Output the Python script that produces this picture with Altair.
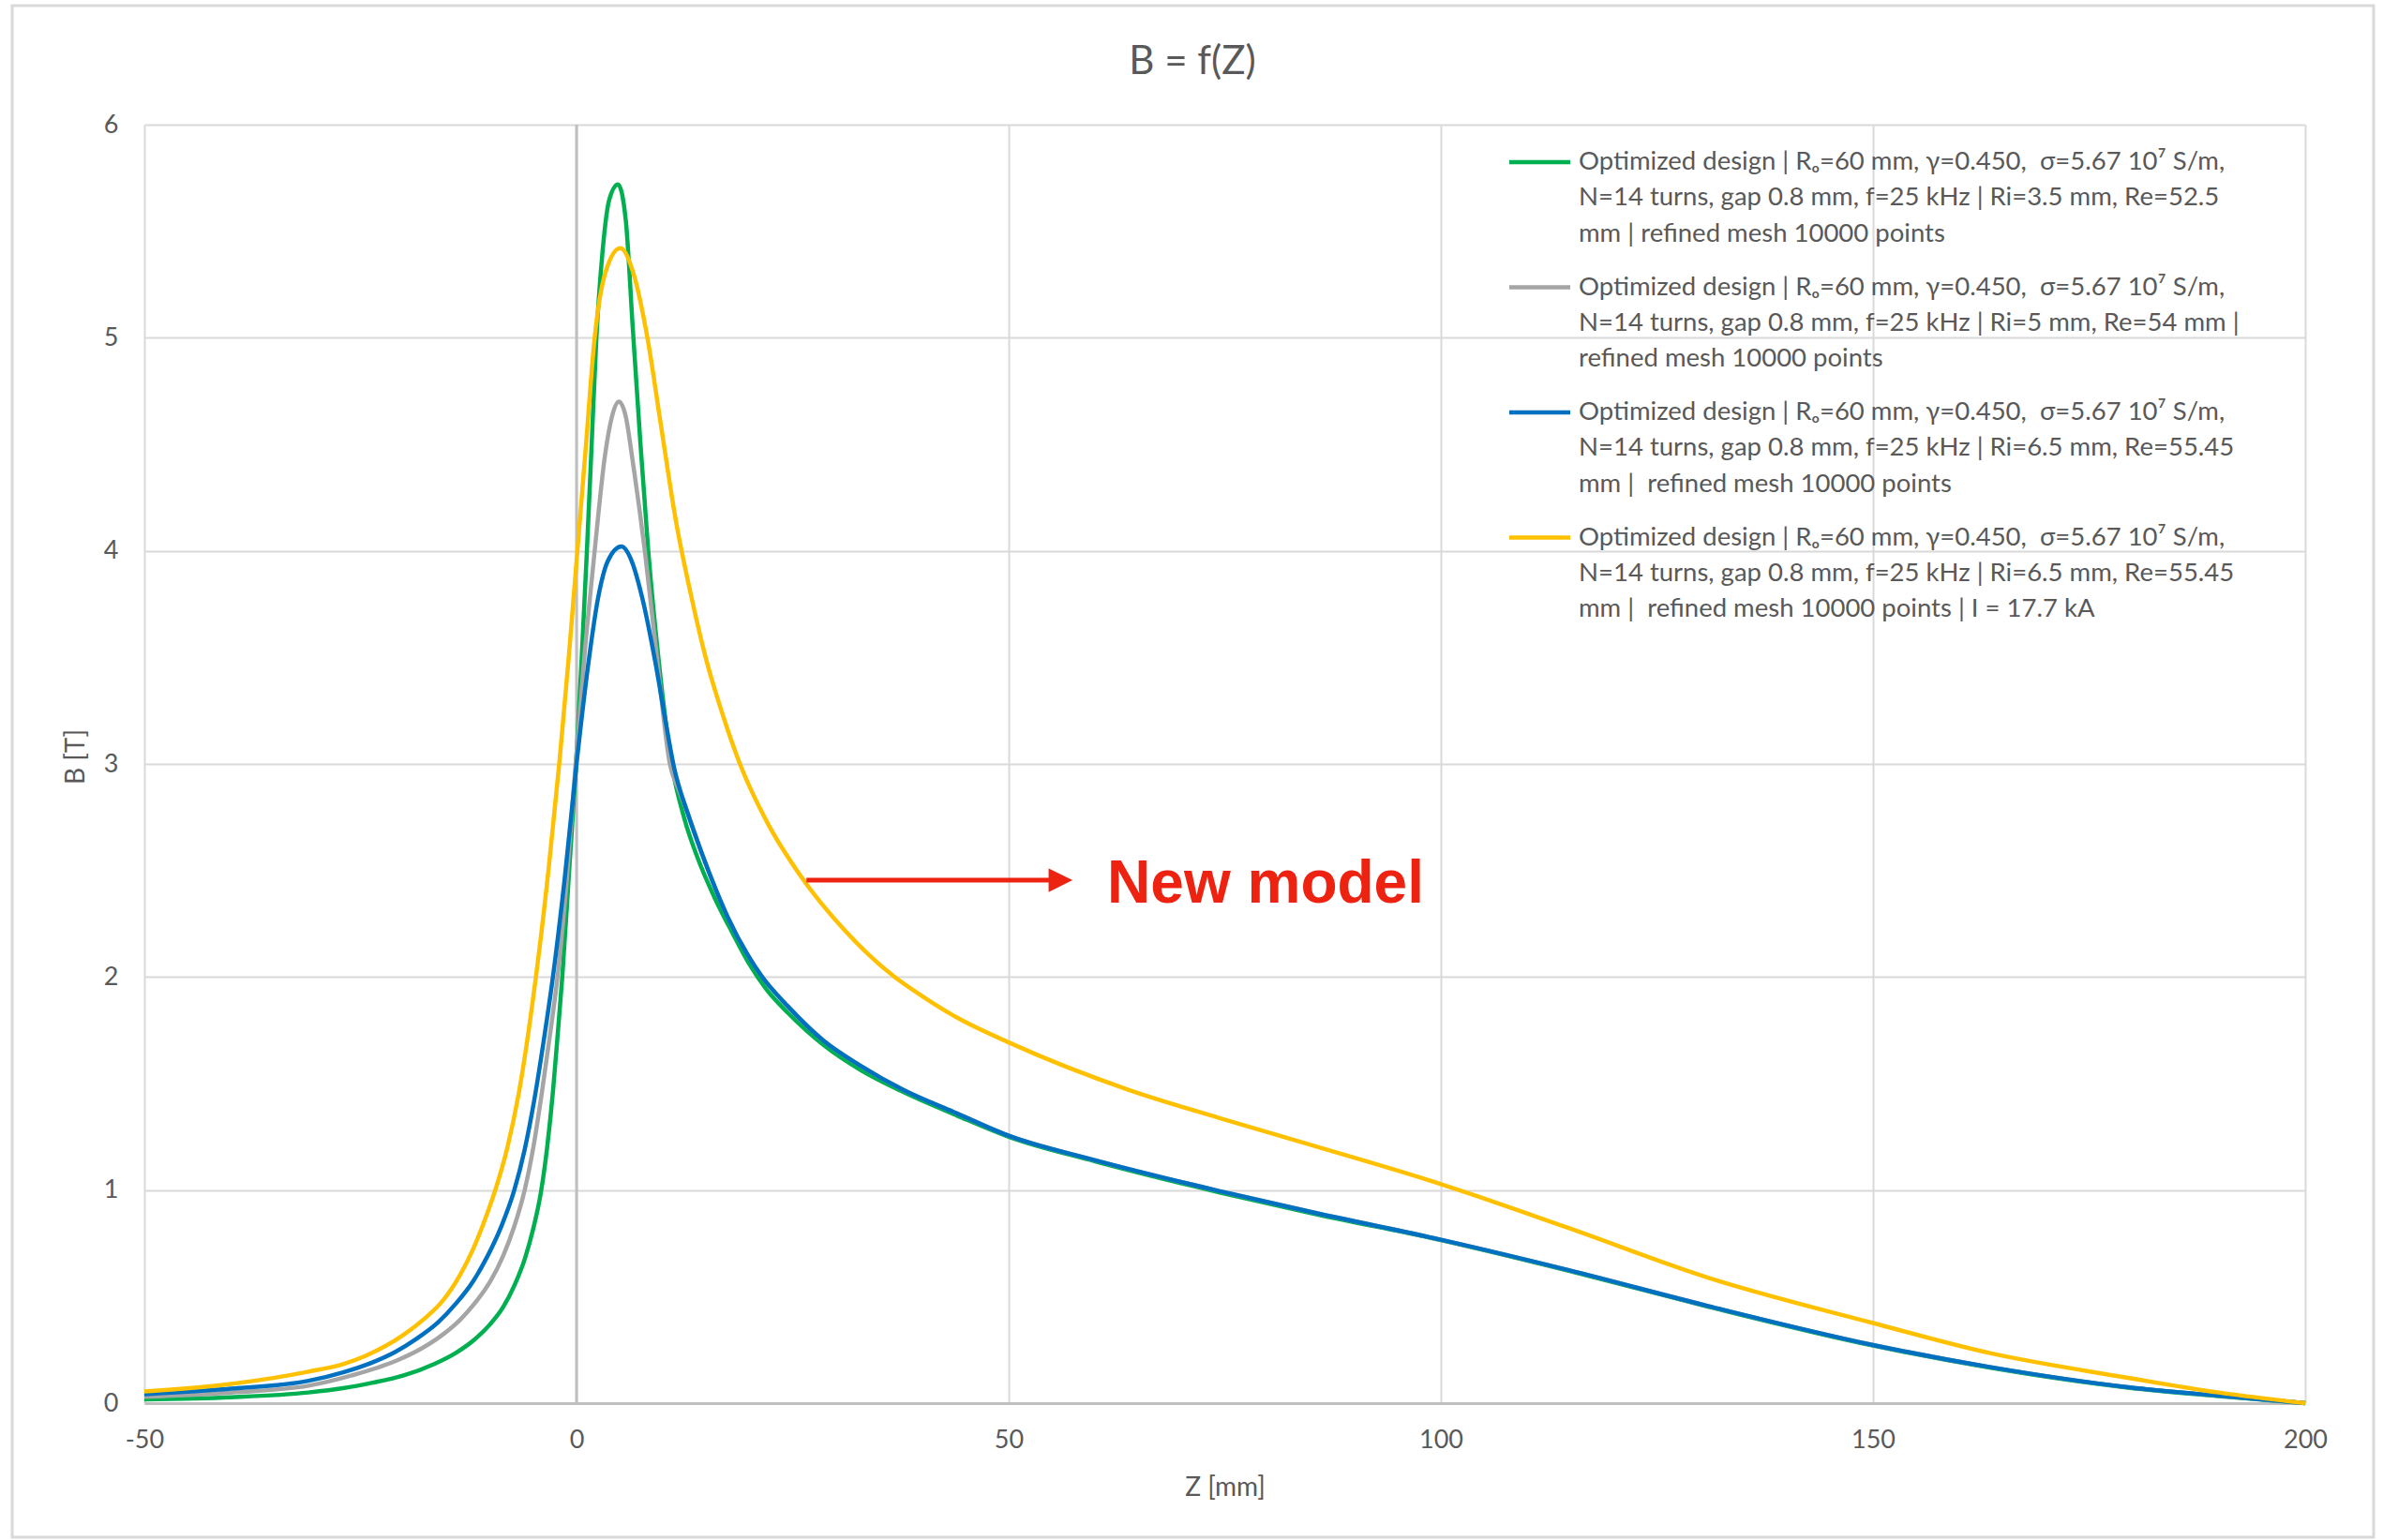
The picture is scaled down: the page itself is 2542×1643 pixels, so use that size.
import altair as alt
import pandas as pd

# ---------------- data ----------------
z_green = [-50, -40, -31, -27, -23.7, -20, -16.4, -14, -11.75, -10, -8.5, -7.1, -5.96, -5.0, -4.16, -3.4,
           -2.71, -2.2, -1.65, -0.85, -0.05, 0.6, 1.2, 1.75, 2.3, 3.0, 3.8, 4.8, 5.7, 6.5, 7.4, 8.3, 9.6,
           11.0, 12.5, 14, 16, 18, 20, 22, 24.5, 28.6, 33, 37.8, 44, 50, 60, 74.3, 85.1, 100, 114.7, 130.9,
           150, 163.3, 179.5, 190, 200]
b_green = [0.018, 0.028, 0.05, 0.07, 0.095, 0.13, 0.185, 0.235, 0.30, 0.37, 0.45, 0.56, 0.68, 0.82, 0.98, 1.2,
           1.47, 1.72, 2.0, 2.5, 3.0, 3.5, 4.0, 4.5, 5.0, 5.4, 5.65, 5.72, 5.55, 5.05, 4.5, 4.0, 3.45,
           3.0, 2.74, 2.56, 2.37, 2.21, 2.06, 1.94, 1.83, 1.68, 1.56, 1.46, 1.35, 1.25, 1.135, 0.99, 0.89,
           0.765, 0.622, 0.453, 0.27, 0.168, 0.073, 0.033, 0.0]

z_gray = [-50, -40, -31, -26, -20.8, -18, -15.7, -13.5, -11.75, -10, -8.5, -7.2, -6, -5, -4, -3.1, -2.2, -1.2,
          -0.2, 0.9, 2.1, 3.3, 4.1, 4.9, 5.7, 6.5, 7.9, 9.3, 10.8, 11.8, 12.85, 14.5, 17.5, 21.3, 24.5, 28.6,
          33, 37.8, 44, 50, 60, 74.3, 85.1, 100, 114.7, 130.9, 150, 163.3, 179.5, 190, 200]
b_gray = [0.03, 0.05, 0.082, 0.13, 0.2, 0.255, 0.315, 0.39, 0.47, 0.57, 0.69, 0.83, 1.0, 1.2, 1.46, 1.72, 2.0,
          2.42, 2.95, 3.5, 4.0, 4.45, 4.63, 4.70, 4.63, 4.42, 4.0, 3.5, 3.0, 2.88, 2.77, 2.58, 2.28, 2.01,
          1.86, 1.7, 1.58, 1.47, 1.36, 1.255, 1.14, 0.996, 0.896, 0.767, 0.625, 0.456, 0.273, 0.171, 0.075,
          0.035, 0.0]

z_blue = [-50, -40, -31, -27, -23.7, -21, -18.6, -16, -13.9, -12, -10.3, -8.7, -7.2, -6, -4.9, -3.8, -2.8,
          -1.4, 0.0, 1.3, 2.5, 3.6, 5.2, 6.4, 7.6, 9.15, 10.3, 11.3, 12.85, 14.5, 17.5, 21.3, 24.5, 28.6, 33,
          37.8, 44, 50, 60, 74.3, 85.1, 100, 114.7, 130.9, 150, 163.3, 179.5, 190, 200]
b_blue = [0.042, 0.068, 0.105, 0.145, 0.19, 0.24, 0.3, 0.38, 0.47, 0.57, 0.69, 0.83, 1.0, 1.19, 1.42, 1.7,
          1.98, 2.45, 3.0, 3.45, 3.78, 3.95, 4.02, 3.95, 3.78, 3.47, 3.2, 2.98, 2.77, 2.58, 2.28, 2.01, 1.86,
          1.7, 1.58, 1.47, 1.36, 1.255, 1.14, 0.996, 0.896, 0.767, 0.625, 0.456, 0.273, 0.171, 0.075, 0.035,
          0.0]

z_yellow = [-50, -40, -31, -27, -24.4, -20.1, -17.5, -15.7, -13.5, -12, -10.7, -9.4, -8, -6.7, -4.7, -3.25,
            -2.0, -0.9, 0.1, 1.1, 2.1, 3.3, 5.06, 6.6, 8.2, 9.8, 11.5, 13.2, 15, 17, 19, 22, 26, 31, 36.8, 40,
            44, 50, 63.9, 74.3, 85.1, 100, 114.7, 130.9, 150, 163.3, 179.5, 190, 200]
b_yellow = [0.055, 0.09, 0.148, 0.183, 0.222, 0.318, 0.40, 0.47, 0.6, 0.72, 0.85, 1.0, 1.2, 1.45, 2.0, 2.5,
            3.0, 3.5, 4.0, 4.5, 5.0, 5.3, 5.42, 5.3, 5.0, 4.58, 4.14, 3.8, 3.49, 3.22, 2.99, 2.73, 2.47, 2.22,
            2.0, 1.91, 1.81, 1.693, 1.47, 1.339, 1.21, 1.028, 0.823, 0.589, 0.376, 0.237, 0.119, 0.05, 0.0]

series_colors = ["#00B050", "#A5A5A5", "#0070C0", "#FFC000"]

legend_first = "Optimized design | R\u2092=60 mm, \u03b3=0.450, \u00a0\u03c3=5.67 10\u2077 S/m,"
legend_lines = [
    [legend_first, "N=14 turns, gap 0.8 mm, f=25 kHz | Ri=3.5 mm, Re=52.5", "mm | refined mesh 10000 points"],
    [legend_first, "N=14 turns, gap 0.8 mm, f=25 kHz | Ri=5 mm, Re=54 mm |", "refined mesh 10000 points"],
    [legend_first, "N=14 turns, gap 0.8 mm, f=25 kHz | Ri=6.5 mm, Re=55.45",
     "mm | \u00a0refined mesh 10000 points"],
    [legend_first, "N=14 turns, gap 0.8 mm, f=25 kHz | Ri=6.5 mm, Re=55.45",
     "mm | \u00a0refined mesh 10000 points | I = 17.7 kA"],
]

x_ticks = [-50, 0, 50, 100, 150, 200]
y_ticks = [0, 1, 2, 3, 4, 5, 6]

arrow_z = [26.6, 55.0]
arrow_b = [2.454, 2.454]
arrow_head_z = [56.0]
note_z = [61.4]
note_b = [2.348]
note_text = ["New model"]

title_text = "B = f(Z)"
x_title = "Z [mm]"
y_title = "B [T]"

# ---------------- layout ----------------
W, H = 2305, 1364
PAD_L, PAD_T = 154, 133
FONT = "Lato"
TXT = "#595959"

xscale = alt.Scale(domain=[-50, 200], nice=False, zero=False)
yscale = alt.Scale(domain=[0, 6], nice=False)

xaxis = alt.Axis(values=x_ticks, grid=True, gridColor="#D9D9D9", gridWidth=2, ticks=False,
                 domain=True, domainColor="#BFBFBF", domainWidth=3, labelFlush=False, labelOverlap=False,
                 labelExpr="'' + datum.value",
                 labelFont=FONT, labelFontSize=27, labelColor=TXT, labelPadding=26,
                 title=x_title, titleFont=FONT, titleFontSize=28, titleColor=TXT, titleFontWeight="normal",
                 titleY=90, titleBaseline="middle")
yaxis = alt.Axis(values=y_ticks, grid=True, gridColor="#D9D9D9", gridWidth=2, ticks=False,
                 domain=False, labelFlush=False, labelOverlap=False, labelExpr="'' + datum.value",
                 labelFont=FONT, labelFontSize=27, labelColor=TXT, labelPadding=28,
                 title=y_title, titleFont=FONT, titleFontSize=28, titleColor=TXT, titleFontWeight="normal",
                 titleX=-73, titleY=674, titleAngle=-90, titleBaseline="middle", titleAlign="center")

layers = []

# zero line of Z axis
zero_df = pd.DataFrame({"z": [0]})
layers.append(alt.Chart(zero_df).mark_rule(color="#BFBFBF", strokeWidth=3).encode(
    x=alt.X("z:Q", scale=xscale, axis=xaxis),
    y=alt.Y(datum=0, scale=yscale, axis=yaxis),
    y2=alt.Y2(datum=6)))

for zs, bs, col in [(z_green, b_green, series_colors[0]), (z_gray, b_gray, series_colors[1]),
                    (z_blue, b_blue, series_colors[2]), (z_yellow, b_yellow, series_colors[3])]:
    df = pd.DataFrame({"z": zs, "b": bs})
    layers.append(alt.Chart(df).mark_line(color=col, strokeWidth=4.5, interpolate="monotone").encode(
        x=alt.X("z:Q", scale=xscale, axis=xaxis),
        y=alt.Y("b:Q", scale=yscale, axis=yaxis)))

# annotation arrow + text
arr_df = pd.DataFrame({"z": arrow_z, "b": arrow_b})
layers.append(alt.Chart(arr_df).mark_line(color="#EE2211", strokeWidth=5).encode(
    x=alt.X("z:Q", scale=xscale), y=alt.Y("b:Q", scale=yscale)))
head_df = pd.DataFrame({"z": arrow_head_z, "b": arrow_b[:1]})
layers.append(alt.Chart(head_df).mark_point(shape="M-1,-1L1,0L-1,1Z", size=650, filled=True,
                                            color="#EE2211", opacity=1).encode(
    x=alt.X("z:Q", scale=xscale), y=alt.Y("b:Q", scale=yscale)))
note_df = pd.DataFrame({"z": note_z, "b": note_b, "t": note_text})
layers.append(alt.Chart(note_df).mark_text(font="Liberation Sans", fontWeight="bold", fontSize=64,
                                           color="#EE2211", align="left", baseline="alphabetic").encode(
    x=alt.X("z:Q", scale=xscale), y=alt.Y("b:Q", scale=yscale), text="t:N"))

# legend (manual, inside plot)
one = pd.DataFrame({"a": [0]})
ROW0, ROW_STEP, LINE_STEP = 40, 133.5, 38.4
for i, lines in enumerate(legend_lines):
    ry = ROW0 + i * ROW_STEP
    layers.append(alt.Chart(one).mark_rule(color=series_colors[i], strokeWidth=4.5).encode(
        x=alt.value(1456), x2=alt.value(1521), y=alt.value(ry)))
    for j, line in enumerate(lines):
        layers.append(alt.Chart(one).mark_text(text=line, font=FONT, fontSize=27.5, color=TXT,
                                               align="left", baseline="middle").encode(
            x=alt.value(1530), y=alt.value(ry + j * LINE_STEP)))

# chart title
layers.append(alt.Chart(one).mark_text(text=title_text, font=FONT, fontSize=42, color=TXT,
                                       align="center", baseline="middle").encode(
    x=alt.value(1272 - PAD_L), y=alt.value(66 - PAD_T)))

# outer chart border
layers.append(alt.Chart(one).mark_rect(fill=None, stroke="#D9D9D9", strokeWidth=3).encode(
    x=alt.value(13 - PAD_L), x2=alt.value(2532 - PAD_L), y=alt.value(6 - PAD_T), y2=alt.value(1640 - PAD_T)))

chart = alt.layer(*layers).properties(
    width=W, height=H,
    autosize=alt.AutoSizeParams(type="none"),
    padding={"left": PAD_L, "top": PAD_T, "right": 2542 - PAD_L - W, "bottom": 1643 - PAD_T - H},
    background="white",
).configure_view(strokeWidth=0)

chart.save("out.html", embed_options={"renderer": "svg", "actions": False})
